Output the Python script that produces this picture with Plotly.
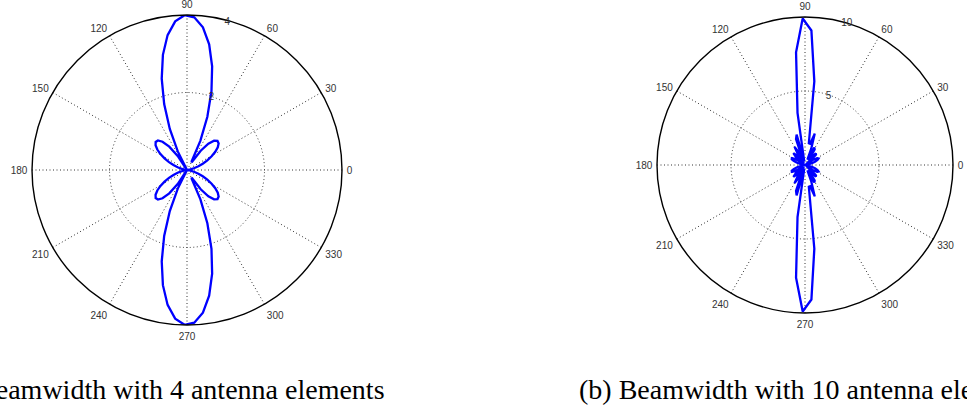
import plotly.graph_objects as go

# Sample angles (degrees) of the pattern: 100 samples over a full turn
theta_deg = [round(k * 360 / 99, 3) for k in range(100)]

# Array-factor magnitude (4 elements)
r_4 = [0.0, 0.013, 0.051, 0.113, 0.200, 0.310, 0.438, 0.580, 0.727, 0.867,
       0.986, 1.066, 1.087, 1.029, 0.874, 0.610, 0.231, 0.257, 0.834, 1.472,
       2.128, 2.752, 3.293, 3.704, 3.944, 3.994, 3.847, 3.517, 3.036, 2.447,
       1.801, 1.149, 0.536, 0.0, 0.435, 0.756, 0.965, 1.069, 1.085, 1.032,
       0.930, 0.798, 0.653, 0.507, 0.372, 0.252, 0.154, 0.079, 0.028, 0.003,
       0.003, 0.028, 0.079, 0.154, 0.252, 0.372, 0.507, 0.653, 0.798, 0.930,
       1.032, 1.085, 1.069, 0.965, 0.756, 0.435, 0.0, 0.536, 1.149, 1.801,
       2.447, 3.036, 3.517, 3.847, 3.994, 3.944, 3.704, 3.293, 2.752, 2.128,
       1.472, 0.834, 0.257, 0.231, 0.610, 0.874, 1.029, 1.087, 1.066, 0.986,
       0.867, 0.727, 0.580, 0.438, 0.310, 0.200, 0.113, 0.051, 0.013, 0.0]

# Array-factor magnitude (10 elements)
r_10 = [0.0, 0.032, 0.126, 0.280, 0.483, 0.708, 0.908, 1.011, 0.935, 0.623,
        0.087, 0.545, 1.026, 1.078, 0.552, 0.390, 1.235, 1.342, 0.395, 1.179,
        2.221, 1.472, 1.493, 5.690, 9.101, 9.898, 7.632, 3.552, 0.238, 2.127,
        1.854, 0.373, 0.993, 1.414, 0.867, 0.108, 0.886, 1.121, 0.822, 0.230,
        0.378, 0.810, 1.000, 0.977, 0.816, 0.595, 0.377, 0.196, 0.071, 0.008,
        0.008, 0.071, 0.196, 0.377, 0.595, 0.816, 0.977, 1.000, 0.810, 0.378,
        0.230, 0.822, 1.121, 0.886, 0.108, 0.867, 1.414, 0.993, 0.373, 1.854,
        2.127, 0.238, 3.552, 7.632, 9.898, 9.101, 5.690, 1.493, 1.472, 2.221,
        1.179, 0.395, 1.342, 1.235, 0.390, 0.552, 1.078, 1.026, 0.545, 0.087,
        0.623, 0.935, 1.011, 0.908, 0.708, 0.483, 0.280, 0.126, 0.032, 0.0]

angle_ticks = [0, 30, 60, 90, 120, 150, 180, 210, 240, 270, 300, 330]
radial_ticks_4 = [2, 4]
radial_ticks_10 = [5, 10]

captions = ["(a) Beamwidth with 4 antenna elements",
            "(b) Beamwidth with 10 antenna elements"]

W, H = 967, 412

fig = go.Figure()
fig.add_trace(go.Scatterpolar(r=r_4, theta=theta_deg, mode="lines",
                              line=dict(color="#0000FF", width=2.3),
                              subplot="polar", showlegend=False))
fig.add_trace(go.Scatterpolar(r=r_10, theta=theta_deg, mode="lines",
                              line=dict(color="#0000FF", width=2.3),
                              subplot="polar2", showlegend=False))

tickfont = dict(family="Liberation Sans, Arial, sans-serif", size=10, color="#333333")
grid_dash = "1px,2.5px"
RAD_ANGLE = 78


def polar_layout(cx, cy, rad, rmax, rticks):
    return dict(
        domain=dict(x=[(cx - rad) / W, (cx + rad) / W],
                    y=[(H - cy - rad) / H, (H - cy + rad) / H]),
        bgcolor="white",
        angularaxis=dict(direction="counterclockwise", rotation=0,
                         tickmode="array", tickvals=angle_ticks,
                         ticktext=[str(a) for a in angle_ticks],
                         tickfont=tickfont, ticks="outside", ticklen=2,
                         tickcolor="rgba(0,0,0,0)",
                         showline=True, linecolor="black", linewidth=1.4,
                         showgrid=True, gridcolor="#333333", gridwidth=1,
                         griddash=grid_dash),
        radialaxis=dict(range=[0, rmax], tickmode="array", tickvals=rticks,
                        ticktext=[str(t) for t in rticks], tickfont=tickfont,
                        tickangle=RAD_ANGLE,
                        showline=False, ticks="", angle=RAD_ANGLE,
                        showgrid=True, gridcolor="#333333", gridwidth=1,
                        griddash=grid_dash),
    )


cap_font = dict(family="Liberation Serif, Times New Roman, serif", size=28, color="black")
fig.update_layout(
    width=W, height=H,
    margin=dict(l=0, r=0, t=0, b=0),
    paper_bgcolor="white",
    polar=polar_layout(187, 170, 155, 4, radial_ticks_4),
    polar2=polar_layout(805, 165, 148, 10, radial_ticks_10),
    annotations=[
        dict(text=captions[0], x=387 / W, y=(H - 389) / H,
             xref="paper", yref="paper", xanchor="right", yanchor="middle",
             showarrow=False, font=cap_font),
        dict(text=captions[1], x=577 / W, y=(H - 389) / H,
             xref="paper", yref="paper", xanchor="left", yanchor="middle",
             showarrow=False, font=cap_font),
    ],
)

fig.write_html("out.html",
               config={"displayModeBar": False},
               post_script="document.body.style.margin='0';"
                           "document.body.style.overflow='hidden';")
